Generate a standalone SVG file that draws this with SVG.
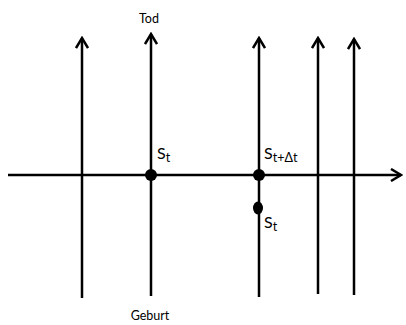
<svg xmlns="http://www.w3.org/2000/svg" width="406" height="325" viewBox="0 0 406 325">
  <style>
    .ln { stroke: #000; stroke-width: 2.5; fill: none; }
    .lbl { font-family: "Lato", "Liberation Sans", sans-serif; fill: #000; }
    .s { font-size: 16px; }
    .sub { font-size: 12.5px; }
    .cap { font-size: 12.5px; text-anchor: middle; }
  </style>
  <defs>
    <marker id="arr" markerUnits="userSpaceOnUse" viewBox="0 0 14 14" refX="12" refY="7" markerWidth="14" markerHeight="14" orient="auto">
      <path d="M2,1 L12,7 L2,13" fill="none" stroke="#000" stroke-width="2.5"/>
    </marker>
  </defs>

  <!-- world lines and time axis -->
  <g id="connectors">
    <line class="ln" x1="82" y1="298" x2="82" y2="38" marker-end="url(#arr)"/>
    <line class="ln" x1="151" y1="296" x2="151" y2="34" marker-end="url(#arr)"/>
    <line class="ln" x1="259" y1="297" x2="259" y2="38" marker-end="url(#arr)"/>
    <line class="ln" x1="318" y1="294" x2="318" y2="38" marker-end="url(#arr)"/>
    <line class="ln" x1="354" y1="295" x2="354" y2="39" marker-end="url(#arr)"/>
    <line class="ln" x1="8" y1="175" x2="401" y2="175" marker-end="url(#arr)"/>
  </g>

  <g id="node-st">
    <circle cx="151" cy="175" r="6"/>
    <text class="lbl s" x="157" y="159">S<tspan class="sub" dy="3">t</tspan></text>
  </g>

  <g id="node-st-dt">
    <circle cx="259" cy="175" r="6"/>
    <text class="lbl s" x="264" y="159">S<tspan class="sub" dy="3">t+Δt</tspan></text>
  </g>

  <g id="node-st-lower">
    <ellipse cx="258" cy="208" rx="5" ry="6.5"/>
    <text class="lbl s" x="264" y="228">S<tspan class="sub" dy="3">t</tspan></text>
  </g>

  <g id="label-tod">
    <text class="lbl cap" x="149" y="23">Tod</text>
  </g>
  <g id="label-geburt">
    <text class="lbl cap" x="150" y="320">Geburt</text>
  </g>
</svg>
